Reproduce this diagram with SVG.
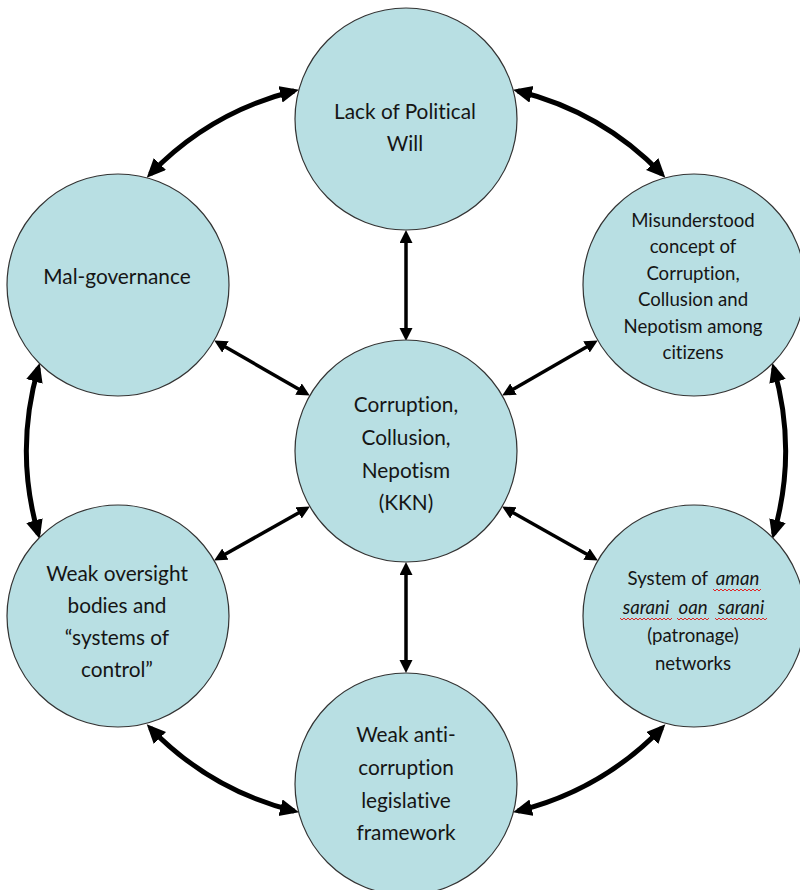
<svg xmlns="http://www.w3.org/2000/svg" width="800" height="890" viewBox="0 0 800 890">
<style>
.node{fill:#b8dfe3;stroke:#333;stroke-width:1.2}
.t{font-family:Lato,"Open Sans","Liberation Sans",sans-serif;font-size:20.8px;fill:#151515;text-anchor:middle;font-variant-ligatures:none}
.s{font-size:18.6px}
.i{font-style:italic}
.st{fill:none;stroke:#000;stroke-width:3.5}
.cv{fill:none;stroke:#000;stroke-width:5}
.sq{fill:none;stroke:#e02424;stroke-width:1}
</style>
<defs>
<marker id="ah" markerUnits="userSpaceOnUse" markerWidth="14" markerHeight="14" refX="9" refY="6.5" orient="auto-start-reverse" viewBox="0 0 14 14">
<path d="M0,0 L13,6.5 L0,13 z" fill="#000"/>
</marker>
<marker id="ahb" markerUnits="userSpaceOnUse" markerWidth="20" markerHeight="18" refX="14" refY="8.5" orient="auto-start-reverse" viewBox="0 0 20 18">
<path d="M0,0 L19,8.5 L0,17 z" fill="#000"/>
</marker>
</defs>
<rect width="800" height="890" fill="#fff"/>
<g id="connectors">
<line class="st" x1="406" y1="234" x2="406" y2="337" marker-start="url(#ah)" marker-end="url(#ah)"/>
<line class="st" x1="406" y1="566" x2="406" y2="669" marker-start="url(#ah)" marker-end="url(#ah)"/>
<line class="st" x1="217.7" y1="342.5" x2="306.3" y2="393.5" marker-start="url(#ah)" marker-end="url(#ah)"/>
<line class="st" x1="505.7" y1="393.5" x2="594.3" y2="342.5" marker-start="url(#ah)" marker-end="url(#ah)"/>
<line class="st" x1="306.4" y1="508.5" x2="217.6" y2="558.5" marker-start="url(#ah)" marker-end="url(#ah)"/>
<line class="st" x1="505.6" y1="508.5" x2="594.4" y2="558.5" marker-start="url(#ah)" marker-end="url(#ah)"/>
<path class="cv" d="M150.2,174.1 A300,300 0 0 1 294.1,91" marker-start="url(#ahb)" marker-end="url(#ahb)"/>
<path class="cv" d="M517.9,91 A300,300 0 0 1 661.9,174.1" marker-start="url(#ahb)" marker-end="url(#ahb)"/>
<path class="cv" d="M773.7,367.9 A300,300 0 0 1 773.7,534.1" marker-start="url(#ahb)" marker-end="url(#ahb)"/>
<path class="cv" d="M661.9,727.9 A300,300 0 0 1 517.9,811" marker-start="url(#ahb)" marker-end="url(#ahb)"/>
<path class="cv" d="M294.1,811 A300,300 0 0 1 150.2,727.9" marker-start="url(#ahb)" marker-end="url(#ahb)"/>
<path class="cv" d="M38.3,534.1 A300,300 0 0 1 38.3,367.9" marker-start="url(#ahb)" marker-end="url(#ahb)"/>
</g>
<g id="node-top">
<circle class="node" cx="406" cy="119" r="111"/>
<text class="t" x="405" y="119">Lack of Political</text>
<text class="t" x="405" y="151">Will</text>
</g>
<g id="node-malgovernance">
<circle class="node" cx="118" cy="285" r="111"/>
<text class="t" x="117" y="284">Mal-governance</text>
</g>
<g id="node-misunderstood">
<circle class="node" cx="694" cy="285" r="111"/>
<text class="t s" x="693" y="227">Misunderstood</text>
<text class="t s" x="693" y="253">concept of</text>
<text class="t s" x="693" y="280">Corruption,</text>
<text class="t s" x="693" y="306">Collusion and</text>
<text class="t s" x="693" y="333">Nepotism among</text>
<text class="t s" x="693" y="359">citizens</text>
</g>
<g id="node-center">
<circle class="node" cx="406" cy="451" r="111"/>
<text class="t" x="406" y="412">Corruption,</text>
<text class="t" x="406" y="445">Collusion,</text>
<text class="t" x="406" y="478">Nepotism</text>
<text class="t" x="406" y="510">(KKN)</text>
</g>
<g id="node-oversight">
<circle class="node" cx="118" cy="616" r="111"/>
<text class="t" x="117" y="581">Weak oversight</text>
<text class="t" x="117" y="613">bodies and</text>
<text class="t" x="117" y="645">“systems of</text>
<text class="t" x="117" y="677">control”</text>
</g>
<g id="node-patronage">
<circle class="node" cx="694" cy="616" r="111"/>
<text class="t s" x="708" y="585" style="text-anchor:end">System of</text>
<text class="t s i" x="737.5" y="585">aman</text>
<text class="t s i" x="646" y="613.5">sarani</text>
<text class="t s i" x="693" y="613.5">oan</text>
<text class="t s i" x="741" y="613.5">sarani</text>
<text class="t s" x="693" y="641.5">(patronage)</text>
<text class="t s" x="693" y="670">networks</text>
<path class="sq" d="M713,589 l2,2 2,-2 2,2 2,-2 2,2 2,-2 2,2 2,-2 2,2 2,-2 2,2 2,-2 2,2 2,-2 2,2 2,-2 2,2 2,-2 2,2 2,-2 2,2 2,-2 2,2 2,-2"/>
<path class="sq" d="M620,618 l2,2 2,-2 2,2 2,-2 2,2 2,-2 2,2 2,-2 2,2 2,-2 2,2 2,-2 2,2 2,-2 2,2 2,-2 2,2 2,-2 2,2 2,-2 2,2 2,-2 2,2 2,-2 2,2 2,-2"/>
<path class="sq" d="M677,618 l2,2 2,-2 2,2 2,-2 2,2 2,-2 2,2 2,-2 2,2 2,-2 2,2 2,-2 2,2 2,-2 2,2 2,-2"/>
<path class="sq" d="M715,618 l2,2 2,-2 2,2 2,-2 2,2 2,-2 2,2 2,-2 2,2 2,-2 2,2 2,-2 2,2 2,-2 2,2 2,-2 2,2 2,-2 2,2 2,-2 2,2 2,-2 2,2 2,-2 2,2 2,-2"/>
</g>
<g id="node-bottom">
<circle class="node" cx="406" cy="784" r="111"/>
<text class="t" x="406" y="742">Weak anti-</text>
<text class="t" x="406" y="775">corruption</text>
<text class="t" x="406" y="808">legislative</text>
<text class="t" x="406" y="840">framework</text>
</g>
</svg>
